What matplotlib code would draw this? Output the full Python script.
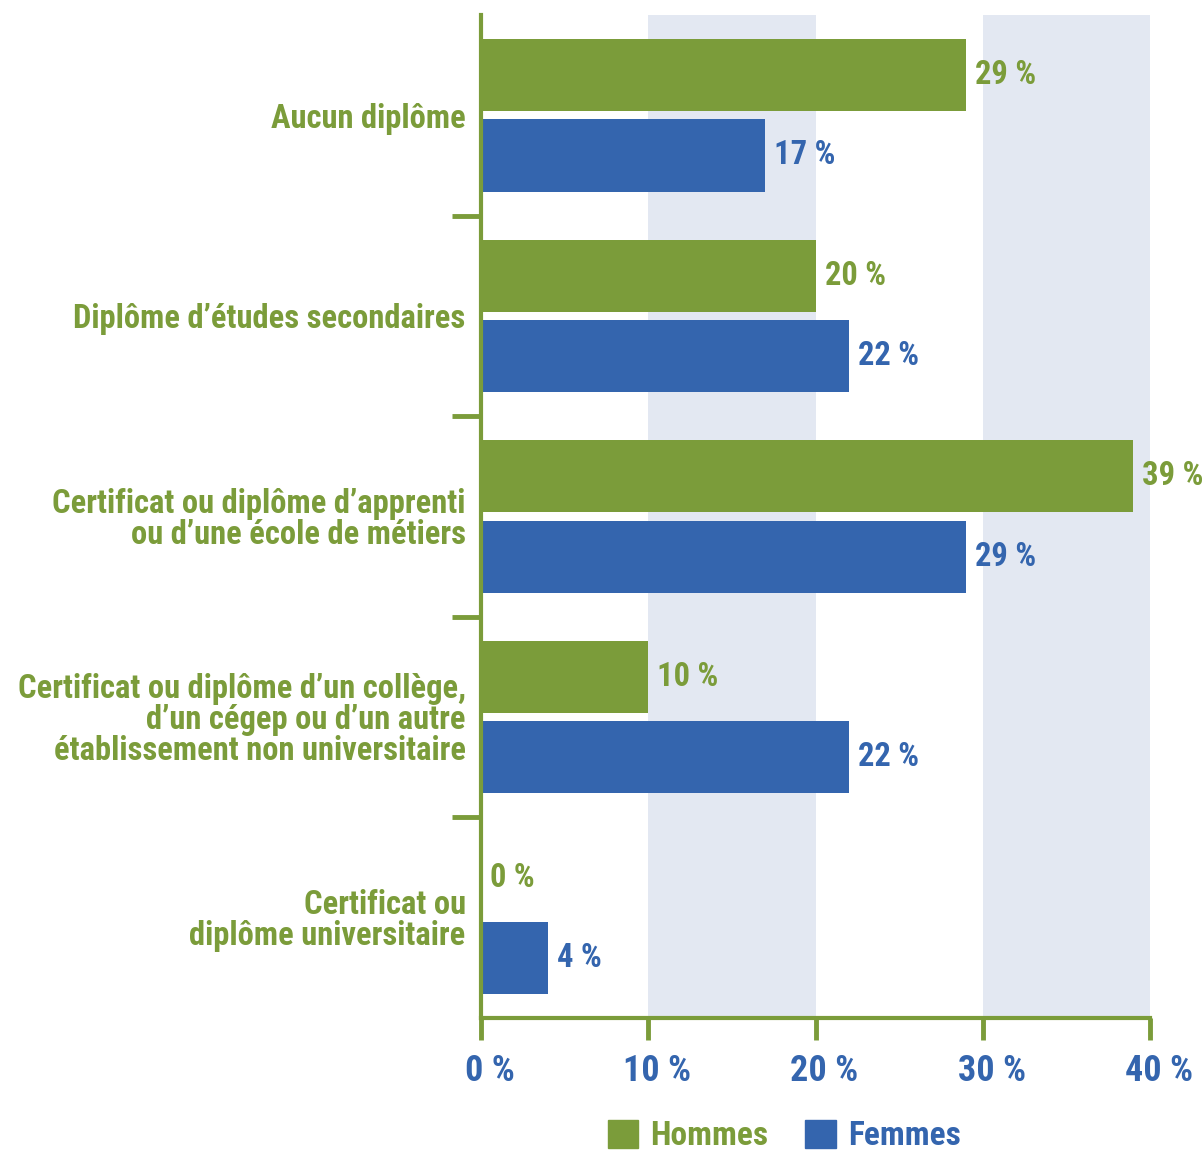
import numpy as np
import matplotlib
matplotlib.use("Agg")
import matplotlib.pyplot as plt
import matplotlib.transforms as mtransforms
from matplotlib import font_manager
from matplotlib.patches import Patch

# narrow bold face like the original
names = set(f.name for f in font_manager.fontManager.ttflist)
fam = 'DejaVu Sans'
for cand in ['Roboto Condensed', 'Liberation Sans Narrow', 'Open Sans Condensed']:
    if cand in names:
        fam = cand
        break
plt.rcParams['font.family'] = [fam, 'DejaVu Sans']

# data
categories = [
    "Aucun diplôme",
    "Diplôme d’études secondaires",
    "Certificat ou diplôme d’apprenti\nou d’une école de métiers",
    "Certificat ou diplôme d’un collège,\nd’un cégep ou d’un autre\nétablissement non universitaire",
    "Certificat ou\ndiplôme universitaire",
]
hommes = [29, 20, 39, 10, 0]
femmes = [17, 22, 29, 22, 4]
xticks = [0, 10, 20, 30, 40]
series_names = ["Hommes", "Femmes"]

green = "#7b9c3a"
blue = "#3465ae"
band = "#e3e8f2"

fig = plt.figure(figsize=(12.04, 11.5), dpi=100)
ax = fig.add_axes([481 / 1204, 1 - 1018 / 1150, (1150 - 481) / 1204, (1018 - 15) / 1150])

for a, b in [(10, 20), (30, 40)]:
    ax.axvspan(a, b, color=band, zorder=0, lw=0)

y = np.arange(len(categories))
h = 0.36
ax.barh(y - 0.2, hommes, height=h, color=green, zorder=2)
ax.barh(y + 0.2, femmes, height=h, color=blue, zorder=2)

for i in range(len(categories)):
    ax.annotate(f"{hommes[i]} %", (hommes[i], y[i] - 0.2), xytext=(6.5, 0),
                textcoords="offset points", va="center", ha="left",
                color=green, fontsize=23.5, fontweight="bold")
    ax.annotate(f"{femmes[i]} %", (femmes[i], y[i] + 0.2), xytext=(6.5, 0),
                textcoords="offset points", va="center", ha="left",
                color=blue, fontsize=23.5, fontweight="bold")

ax.set_xlim(0, 40)
ax.set_ylim(len(categories) - 0.5, -0.5)

ax.set_yticks(y)
ax.set_yticklabels(categories, color=green, fontsize=23.5, fontweight="bold",
                   linespacing=0.97)
ax.tick_params(axis="y", which="major", length=0, pad=11)
ax.set_yticks(np.arange(0.5, len(categories) - 1, 1.0), minor=True)
ax.tick_params(axis="y", which="minor", length=21, width=3.5, color=green)

ax.set_xticks(xticks)
ax.set_xticklabels([f"{t} %" for t in xticks], color=blue, fontsize=26,
                   fontweight="bold")
ax.tick_params(axis="x", length=16, width=3.5, color=green, pad=9)
shift = mtransforms.ScaledTranslation(9 / 100, 0, fig.dpi_scale_trans)
for lab in ax.get_xticklabels():
    lab.set_transform(lab.get_transform() + shift)

for s in ["top", "right"]:
    ax.spines[s].set_visible(False)
for s in ["left", "bottom"]:
    ax.spines[s].set_color(green)
    ax.spines[s].set_linewidth(3)

handles = [Patch(color=green), Patch(color=blue)]
leg = fig.legend(handles, series_names, loc="center", bbox_to_anchor=(784 / 1204, 1 - 1136 / 1150),
                 ncol=2, frameon=False, handlelength=0.92, handleheight=0.92,
                 columnspacing=1.1, handletextpad=0.36,
                 prop={"size": 24, "weight": "bold"})
for t, c in zip(leg.get_texts(), [green, blue]):
    t.set_color(c)

fig.savefig("out.png", dpi=100)
